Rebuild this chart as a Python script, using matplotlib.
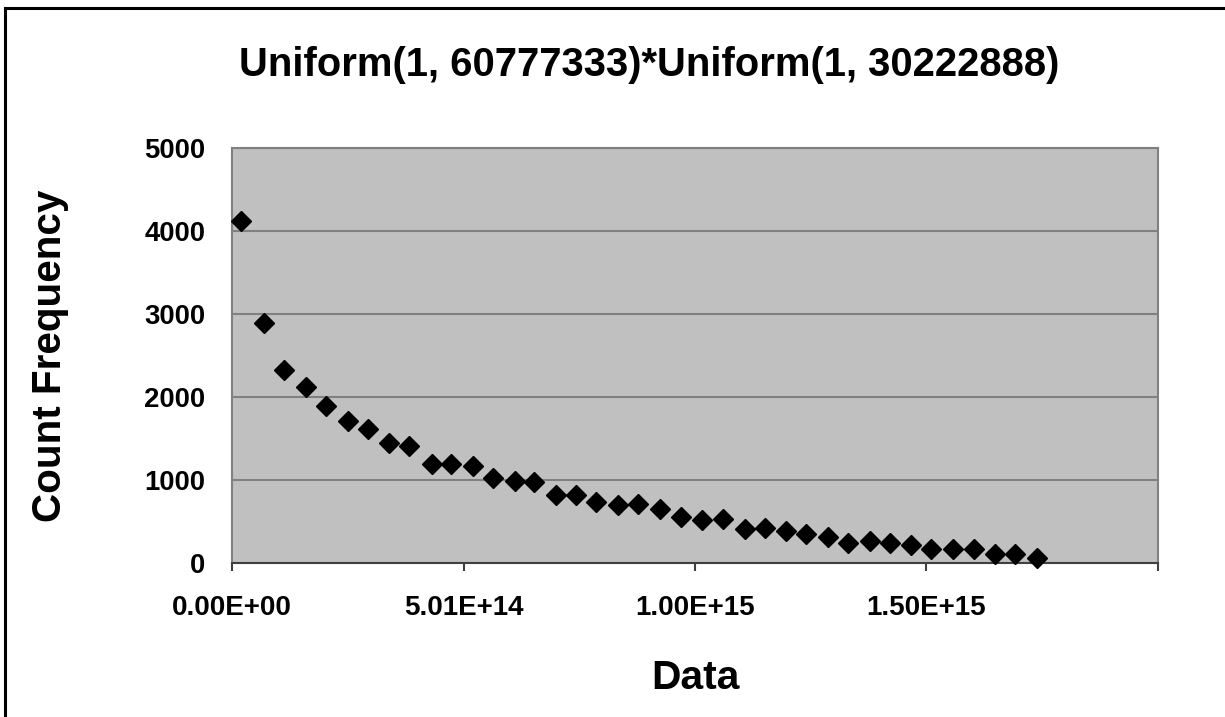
import matplotlib
matplotlib.use("Agg")
import matplotlib.pyplot as plt
from matplotlib.lines import Line2D

plt.rcParams['font.family'] = ['Liberation Sans', 'DejaVu Sans']

title = "Uniform(1, 60777333)*Uniform(1, 30222888)"
x_label = "Data"
y_label = "Count Frequency"

# bin positions (data values) and counts
data_x = [0.194e14, 0.690e14, 1.122e14, 1.597e14, 2.028e14, 2.503e14, 2.934e14,
          3.387e14, 3.819e14, 4.315e14, 4.725e14, 5.221e14, 5.653e14, 6.127e14,
          6.537e14, 7.012e14, 7.443e14, 7.875e14, 8.350e14, 8.781e14, 9.256e14,
          9.709e14, 10.162e14, 10.615e14, 11.090e14, 11.521e14, 11.974e14,
          12.406e14, 12.880e14, 13.312e14, 13.787e14, 14.218e14, 14.671e14,
          15.124e14, 15.599e14, 16.052e14, 16.505e14, 16.936e14, 17.411e14]
counts = [4120, 2888, 2325, 2124, 1896, 1711, 1610, 1450, 1410, 1193, 1193, 1173,
          1020, 992, 980, 819, 819, 731, 699, 707, 651, 558, 518, 530, 406, 426,
          386, 345, 317, 245, 269, 237, 217, 169, 169, 169, 104, 104, 56]

x_ticks = [0.0, 5.0055e14, 10.011e14, 15.0165e14, 20.022e14]
x_tick_labels = ["0.00E+00", "5.01E+14", "1.00E+15", "1.50E+15", ""]
y_ticks = [0, 1000, 2000, 3000, 4000, 5000]
y_tick_labels = ["0", "1000", "2000", "3000", "4000", "5000"]

fig = plt.figure(figsize=(12.25, 7.17), dpi=100)
fig.patch.set_facecolor("white")
ax = fig.add_axes([232/1225, 1-563/717, (1158-232)/1225, (563-148)/717])
ax.set_facecolor("#C0C0C0")

ax.plot(data_x, counts, linestyle="none", marker="D", markersize=10,
        color="black", zorder=3, clip_on=False)

ax.set_xlim(x_ticks[0], x_ticks[-1])
ax.set_ylim(0, 5000)
ax.set_xticks(x_ticks)
ax.set_xticklabels(x_tick_labels)
ax.set_yticks(y_ticks)
ax.set_yticklabels(y_tick_labels)

ax.grid(axis="y", color="#808080", linewidth=1.5, zorder=1)
ax.set_axisbelow(True)

for s in ["left", "top", "right"]:
    ax.spines[s].set_color("#808080")
    ax.spines[s].set_linewidth(1.5)
ax.spines["bottom"].set_color("#404040")
ax.spines["bottom"].set_linewidth(1.5)

ax.tick_params(axis="y", length=0, pad=19, labelsize=19.8)
ax.tick_params(axis="x", length=6, width=1.5, color="#404040", direction="out",
               pad=17, labelsize=20)
for lab in ax.get_xticklabels() + ax.get_yticklabels():
    lab.set_fontweight("bold")

ax.set_xlabel(x_label, fontsize=29.3, fontweight="bold")
ax.xaxis.set_label_coords(0.5, (563-678)/415)
ax.xaxis.label.set_va("center")
ax.set_ylabel(y_label, fontsize=29.1, fontweight="bold")
ax.yaxis.set_label_coords((50-232)/926, 0.5)
ax.yaxis.label.set_va("center")

fig.text(649/1225, 1-65/717, title, fontsize=28.8, fontweight="bold",
         ha="center", va="center")

# outer frame (top and left edges)
fig.add_artist(Line2D([5/1225, 1.0], [1-8/717, 1-8/717], color="black",
                      linewidth=2.2, transform=fig.transFigure))
fig.add_artist(Line2D([5/1225, 5/1225], [0.0, 1-8/717], color="black",
                      linewidth=2.2, transform=fig.transFigure))

fig.savefig("out.png", dpi=100)
